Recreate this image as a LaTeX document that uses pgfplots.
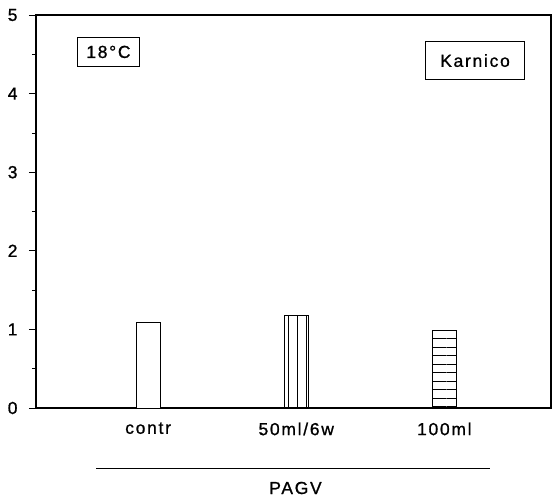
\documentclass[border=0pt]{standalone}
\usepackage{pgfplots}
\pgfplotsset{compat=1.18}
\usetikzlibrary{patterns.meta}
\usepackage{fontspec}
\setmainfont{Liberation Sans}[LetterSpace=10,FakeBold=1]
\begin{document}
\begin{tikzpicture}
\begin{axis}[
  scale only axis,
  width=515bp, height=393bp,
  xmin=0.243, xmax=3.72,
  ymin=0, ymax=5,
  ytick={0,1,2,3,4,5},
  minor y tick num=1,
  ytick pos=left,
  tick align=outside,
  major tick length=7bp,
  minor tick length=4bp,
  xtick={1,2,3},
  xticklabels={contr,50ml/6w,100ml},
  x tick style={draw=none},
  xticklabel style={yshift=-4bp},
  yticklabel style={xshift=-8bp},
  axis line style={line width=1.3pt},
  every tick/.style={black,line width=0.8pt},
  /pgf/number format/assume math mode=true,
  tick label style={font=\fontsize{17.5}{20}\selectfont},
  clip=false,
  ybar, bar width=0.165, bar shift=0pt,
]
\addplot[draw=black, line width=0.8pt, fill=white] coordinates {(1,1.09)};
\addplot[draw=black, line width=0.8pt, pattern={Lines[angle=90,distance=9bp,line width=0.6pt]}] coordinates {(2,1.18)};
\addplot[draw=black, line width=0.8pt, pattern={Lines[angle=0,distance=8.5bp,line width=0.6pt]}] coordinates {(3,0.99)};
\node[draw, line width=0.8pt, inner xsep=9bp, inner ysep=8bp, font=\fontsize{17.5}{20}\selectfont] at (axis cs:0.732,4.53) {18°C};
\node[draw, line width=0.8pt, inner xsep=15bp, inner ysep=12.5bp, font=\fontsize{17.5}{20}\selectfont] at (axis cs:3.207,4.42) {Karnico};
\draw[line width=1pt] ([yshift=-60bp]axis cs:0.65,0) -- ([yshift=-60bp]axis cs:3.31,0);
\node[font=\fontsize{17.5}{20}\selectfont] at ([yshift=-80bp]axis cs:1.995,0) {PAGV};
\path ([xshift=-36bp,yshift=-92bp]rel axis cs:0,0) rectangle ([xshift=1bp,yshift=15bp]rel axis cs:1,1);
\end{axis}
\end{tikzpicture}
\end{document}
